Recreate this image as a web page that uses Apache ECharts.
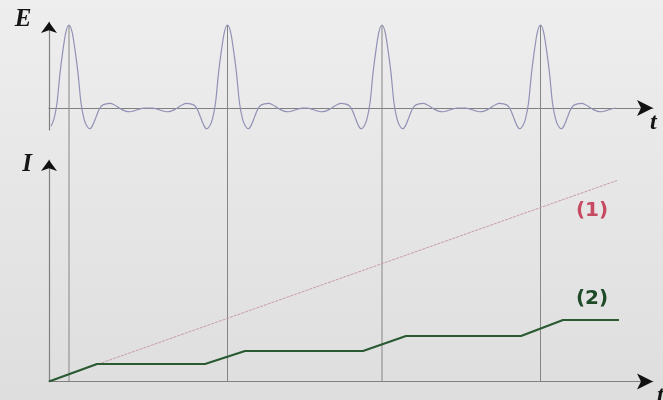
<!DOCTYPE html>
<html>
<head>
<meta charset="utf-8">
<script src="https://cdn.jsdelivr.net/npm/echarts@6/dist/echarts.min.js"></script>
<style>html,body{margin:0;padding:0;}#c{width:663px;height:400px;}</style>
</head>
<body>
<div id="c"></div>
<script>
// ---- data (t in arbitrary time units) ----
const peakTimes = [20, 178.5, 333, 491.5];            // pulse centres (also vertical guide lines)
const pulseOffsets = [0, 3, 6, 9, 12, 15, 18, 21, 24, 27, 30, 33, 37, 41, 45, 49, 53, 57, 61, 65, 70, 75];
const pulseValues  = [1.0, 0.92, 0.70, 0.42, 0.06, -0.13, -0.22, -0.25, -0.20, -0.11, -0.02, 0.03, 0.05, 0.055, 0.04, 0.01, -0.02, -0.04, -0.045, -0.035, -0.015, 0];
const line1T = [0, 568];
const line1I = [0, 201];
const line2T = [0, 48, 156, 196, 314, 357, 472, 514, 570];
const line2I = [0, 17.5, 17.5, 30.5, 30.5, 45.5, 45.5, 61.5, 61.5];
const labels = {E: 'E', I: 'I', t: 't', s1: '(1)', s2: '(2)'};

// build E(t) from the read pulse shape
const eData = [];
peakTimes.forEach(function (p) {
  for (let k = pulseOffsets.length - 1; k > 0; k--) {
    const t = p - pulseOffsets[k];
    if (t >= 0) eData.push([t, pulseValues[k]]);
  }
  for (let k = 0; k < pulseOffsets.length; k++) {
    eData.push([p + pulseOffsets[k], pulseValues[k]]);
  }
});
eData.sort(function (a, b) { return a[0] - b[0]; });

const axisColor = '#808080';
const arrowColor = '#111111';
function xAx(gi, mode) {
  const ax = {
    type: 'value', gridIndex: gi, min: 0, max: 604, position: 'bottom',
    axisTick: {show: false}, axisLabel: {show: false}, splitLine: {show: false}
  };
  if (mode === 'line') {
    ax.axisLine = {show: true, onZero: true, lineStyle: {color: axisColor, width: 1.2}};
  } else if (mode === 'arrow') {
    ax.axisLine = {show: true, onZero: true, symbol: ['none', 'arrow'], symbolSize: [12, 16],
      lineStyle: {color: arrowColor, width: 0}};
  } else {
    ax.axisLine = {show: false};
  }
  return ax;
}
function yAx(gi, min, max, mode) {
  const ax = {
    type: 'value', gridIndex: gi, min: min, max: max, position: 'left',
    axisTick: {show: false}, axisLabel: {show: false}, splitLine: {show: false}
  };
  if (mode === 'line') {
    ax.axisLine = {show: true, onZero: false, lineStyle: {color: axisColor, width: 1.2}};
  } else if (mode === 'arrow') {
    ax.axisLine = {show: true, onZero: false, symbol: ['none', 'arrow'], symbolSize: [12, 11],
      lineStyle: {color: arrowColor, width: 0}};
  } else {
    ax.axisLine = {show: false};
  }
  return ax;
}

const series = [];
peakTimes.forEach(function (p) {
  series.push({
    type: 'line', xAxisIndex: 2, yAxisIndex: 2, data: [[p, 0], [p, 1]],
    showSymbol: false, silent: true, z: 1,
    lineStyle: {color: '#858585', width: 1}
  });
});
series.push({
  type: 'line', xAxisIndex: 0, yAxisIndex: 0, data: eData, smooth: 0.3,
  showSymbol: false, z: 3, lineStyle: {color: '#9191b6', width: 1.2}
});
series.push({
  type: 'line', xAxisIndex: 1, yAxisIndex: 1,
  data: line1T.map(function (t, i) { return [t, line1I[i]]; }),
  showSymbol: false, z: 3, lineStyle: {color: '#c79ca6', width: 1, type: [3, 1]}
});
series.push({
  type: 'line', xAxisIndex: 1, yAxisIndex: 1,
  data: line2T.map(function (t, i) { return [t, line2I[i]]; }),
  showSymbol: false, z: 4, lineStyle: {color: '#2a5a32', width: 2.2}
});

const chart = echarts.init(document.getElementById('c'), null, {renderer: 'canvas'});
chart.setOption({
  animation: false,
  backgroundColor: {type: 'linear', x: 0, y: 0, x2: 0, y2: 1,
    colorStops: [{offset: 0, color: '#eeeeee'}, {offset: 1, color: '#dedede'}]},
  grid: [
    {left: 49, width: 604, top: 22, height: 108},
    {left: 49, width: 604, top: 160, bottom: 18.5},
    {left: 49, width: 604, top: 25, bottom: 18.5}
  ],
  xAxis: [xAx(0, 'line'), xAx(1, 'line'), xAx(2, 'none'), xAx(0, 'arrow'), xAx(1, 'arrow')],
  yAxis: [yAx(0, -0.2651, 1.0361, 'line'), yAx(1, 0, 221.5, 'line'), yAx(2, 0, 1, 'none'),
          yAx(0, -0.2651, 1.0361, 'arrow'), yAx(1, 0, 221.5, 'arrow')],
  series: series,
  graphic: [
    {type: 'text', x: 23, y: 20, style: {text: labels.E, font: 'italic bold 25px "Liberation Serif"', fill: '#151515', align: 'center', verticalAlign: 'middle'}},
    {type: 'text', x: 27, y: 165, style: {text: labels.I, font: 'italic bold 25px "Liberation Serif"', fill: '#151515', align: 'center', verticalAlign: 'middle'}},
    {type: 'text', x: 650, y: 111, style: {text: labels.t, font: 'italic bold 24px "Liberation Serif"', fill: '#151515', align: 'left', verticalAlign: 'top'}},
    {type: 'text', x: 657, y: 384, style: {text: labels.t, font: 'italic bold 24px "Liberation Serif"', fill: '#151515', align: 'left', verticalAlign: 'top'}},
    {type: 'text', x: 592, y: 211, style: {text: labels.s1, font: 'bold 20px "DejaVu Sans"', fill: '#c64a62', align: 'center', verticalAlign: 'middle'}},
    {type: 'text', x: 592, y: 299, style: {text: labels.s2, font: 'bold 20px "DejaVu Sans"', fill: '#1f4a28', align: 'center', verticalAlign: 'middle'}}
  ]
});
</script>
</body>
</html>
